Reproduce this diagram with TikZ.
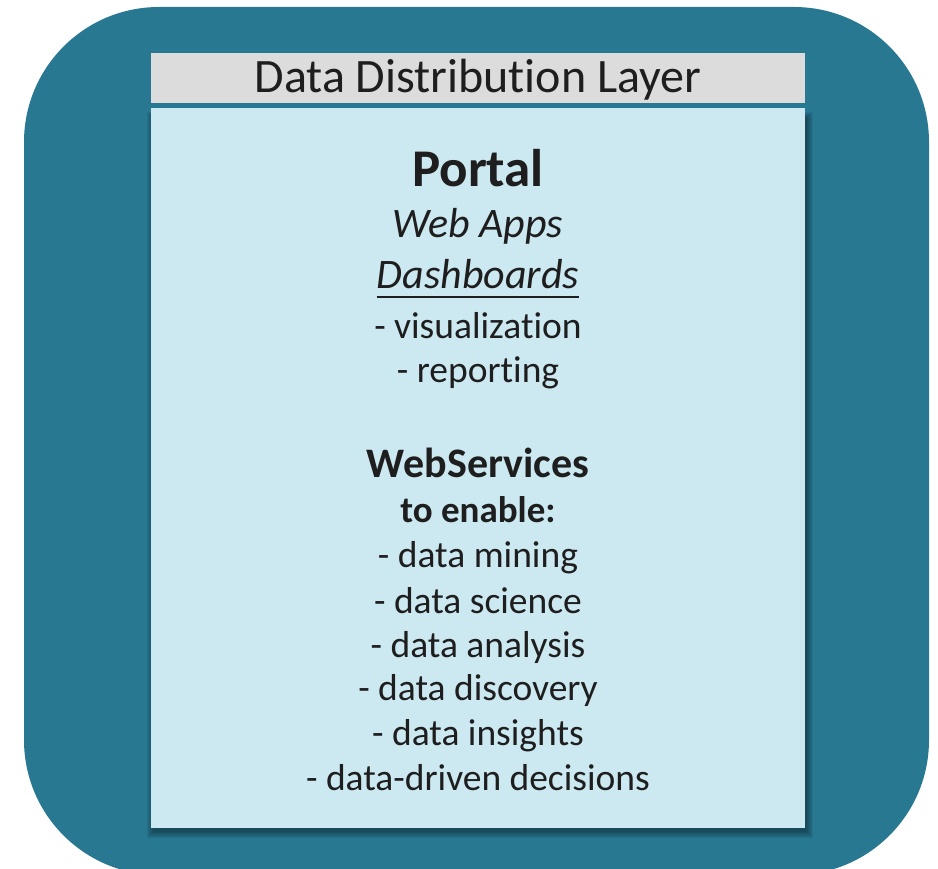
\documentclass[tikz,border=0pt]{standalone}
\usepackage{fontspec}
\setmainfont{Carlito}[RawFeature=-liga]
\definecolor{teal}{RGB}{40,120,146}
\definecolor{paneblue}{RGB}{204,232,241}
\definecolor{headgray}{RGB}{220,220,220}
\definecolor{ink}{RGB}{30,30,30}
\begin{document}
\begin{tikzpicture}[x=1pt,y=-1pt,
  txt/.style={anchor=base,inner sep=0pt,text=ink,font=\fontsize{37.5}{45}\selectfont},
  big/.style={txt,font=\bfseries\fontsize{53}{64}\selectfont},
  ital/.style={txt,font=\itshape\fontsize{42}{50}\selectfont},
  bold/.style={txt,font=\bfseries\fontsize{42}{50}\selectfont},
  boldsm/.style={txt,font=\bfseries\fontsize{37}{44}\selectfont}]
\useasboundingbox (0,0) rectangle (938,869);
\clip (0,0) rectangle (938,869);
% outer rounded background
\fill[teal,rounded corners=135pt] (24,7) rectangle (929,875);
% shadow of panel
\foreach \k in {0,1,2,3,4,5,6}{
  \fill[black,opacity=0.06] ({151+2-\k},{118-\k}) rectangle ({805+2+\k},{828+4+\k});
}
% header and panel
\fill[headgray] (151,53) rectangle (805,103);
\fill[paneblue] (151,108) rectangle (805,828);
% texts
\node[txt,font=\fontsize{48}{58}\selectfont] (head) at (478,93) {Data Distribution Layer};
\node[big] (portal) at (478,187) {Portal};
\node[ital] (webapps) at (478,238) {Web Apps};
\node[ital] (dash) at (478,289) {Dashboards};
\draw[ink,line width=2pt] ([yshift=-8pt]dash.base west) -- ([yshift=-8pt]dash.base east);
\node[txt] (vis) at (478,338) {- visualization};
\node[txt] (rep) at (478,382) {- reporting};
\node[bold] (ws) at (478,477) {WebServices};
\node[boldsm] (enable) at (478,522) {to enable:};
\node[txt] (mining) at (478,567) {- data mining};
\node[txt] (science) at (478,613) {- data science};
\node[txt] (analysis) at (478,657) {- data analysis};
\node[txt] (discovery) at (478,700) {- data discovery};
\node[txt] (insights) at (478,745) {- data insights};
\node[txt] (decisions) at (478,790) {- data-driven decisions};
\end{tikzpicture}
\end{document}
